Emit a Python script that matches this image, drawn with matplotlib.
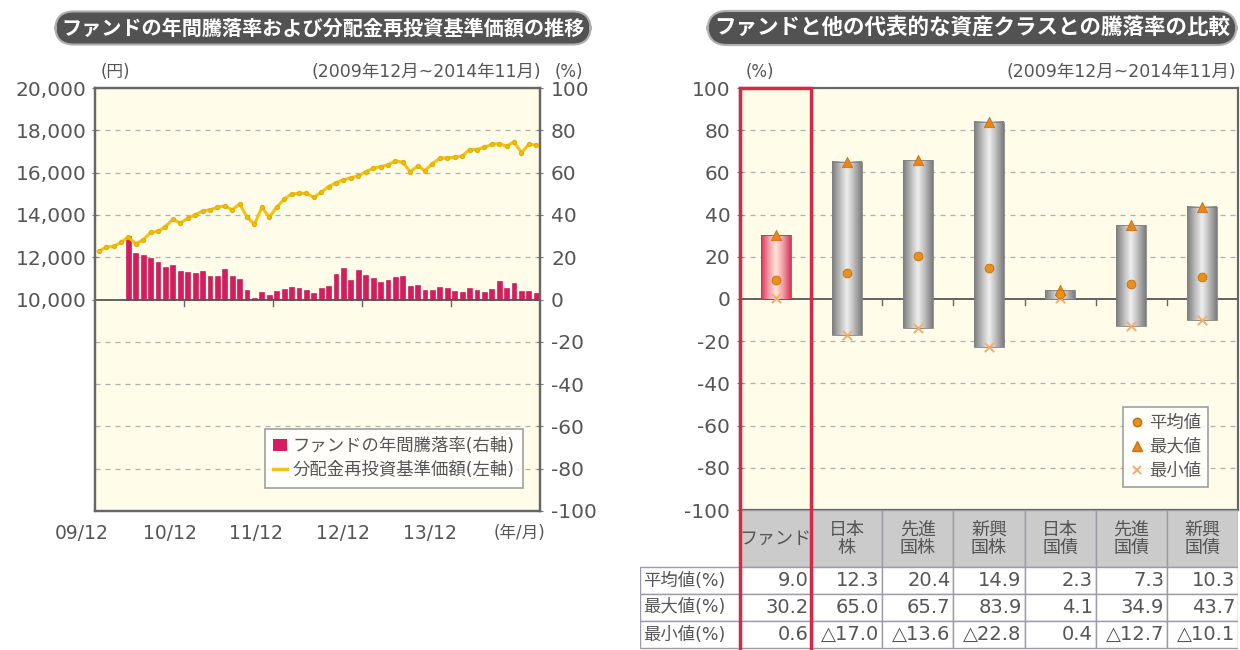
import numpy as np
import matplotlib
matplotlib.use('Agg')
import matplotlib.pyplot as plt
import matplotlib.transforms as mtransforms
from matplotlib.patches import Rectangle
from matplotlib.lines import Line2D
from matplotlib.colors import LinearSegmentedColormap

plt.rcParams['font.family'] = ['DejaVu Sans', 'Noto Sans CJK JP']
plt.rcParams['axes.unicode_minus'] = False

# left chart: monthly NAV (yen, 2009/12 - 2014/11) and 1-year return (%)
nav = [12280, 12480, 12510, 12700, 12950, 12640, 12820, 13170, 13220, 13450,
       13800, 13610, 13840, 14000, 14190, 14240, 14350, 14430, 14240, 14520,
       13890, 13560, 14360, 13890, 14360, 14740, 14990, 15020, 15020, 14830,
       15070, 15340, 15520, 15650, 15760, 15840, 16040, 16200, 16280, 16360,
       16560, 16480, 16040, 16310, 16090, 16430, 16670, 16700, 16720, 16780,
       17090, 17090, 17190, 17340, 17370, 17250, 17450, 16940, 17340, 17300]
ret = [30.2, 22.2, 21.1, 19.4, 17.5, 15.6, 16.1, 13.7, 12.8, 12.5,
       13.7, 10.9, 10.9, 14.5, 10.9, 9.7, 4.4, 0.6, 3.6, 2.3,
       4.2, 5.0, 5.8, 5.5, 4.7, 3.1, 5.6, 6.2, 12.2, 15.1,
       9.4, 14.0, 11.7, 10.1, 8.1, 9.4, 10.5, 11.2, 6.6, 7.0,
       4.4, 4.4, 5.9, 5.5, 3.9, 3.6, 5.5, 4.7, 3.6, 5.0,
       8.6, 5.5, 7.8, 3.9, 3.9, 3.1]
ret_start = len(nav) - len(ret)
year_labels = ['09/12', '10/12', '11/12', '12/12', '13/12']
year_label_pos = [-2.25, 9.6, 21.2, 32.9, 44.6]

# right chart: return comparison
categories = ['ファンド', '日本\n株', '先進\n国株', '新興\n国株', '日本\n国債', '先進\n国債', '新興\n国債']
avg_vals = [9.0, 12.3, 20.4, 14.9, 2.3, 7.3, 10.3]
max_vals = [30.2, 65.0, 65.7, 83.9, 4.1, 34.9, 43.7]
min_vals = [0.6, -17.0, -13.6, -22.8, 0.4, -12.7, -10.1]
row_labels = ['平均値(%)', '最大値(%)', '最小値(%)']

TXT = '#555555'
BG = '#fffce9'
GRID = '#b0b0b0'
W, H = 1240, 650

fig = plt.figure(figsize=(12.4, 6.5), dpi=100)


def box(x0, y0, x1, y1):
    return [x0 / W, 1 - y1 / H, (x1 - x0) / W, (y1 - y0) / H]


def title(xc, s, size):
    fig.text(xc / W, 1 - 28 / H, s, ha='center', va='center', fontsize=size,
             fontweight='bold', color='white', family=['Noto Sans CJK JP'],
             bbox=dict(boxstyle='round,pad=0.3,rounding_size=0.9', fc='#525252',
                       ec='#b0b0b0', lw=1.5))


def frame(a):
    for s in a.spines.values():
        s.set_color('#666666')
        s.set_linewidth(1.6)


# ---------------- left chart ----------------
title(323, 'ファンドの年間騰落率および分配金再投資基準価額の推移', 14.5)
ax = fig.add_axes(box(95, 88, 540, 511))
ax.set_facecolor(BG)
months = np.arange(len(nav))
ax.bar(months[ret_start:], ret, width=0.66, color='#d81b5e', edgecolor='#b3124c',
       lw=0.4, zorder=3)
ax.set_xlim(-0.5, len(nav) - 0.5)
ax.set_ylim(-100, 100)
for v in range(-80, 81, 20):
    if v != 0:
        ax.axhline(v, color=GRID, ls=(0, (4, 4)), lw=0.9, zorder=1)
ax.axhline(0, color='#555555', lw=1.3, zorder=4)
for k in range(1, 5):
    ax.plot([12 * k - 0.5] * 2, [0, -3], color='#666666', lw=1, zorder=4)
ax.set_xticks([])
frame(ax)
tr = mtransforms.blended_transform_factory(ax.transData, ax.transAxes)
for p, lab in zip(year_label_pos, year_labels):
    ax.text(p, -0.03, lab, transform=tr, ha='center', va='top', fontsize=13.5, color=TXT)
ax.text(56.8, -0.03, '(年/月)', transform=tr, ha='center', va='top', fontsize=12, color=TXT)

axL = ax.twinx()
axL.plot(months, nav, color='#f2c30f', lw=2.2, marker='o', ms=2.8, mec='#e2b000', zorder=5)
axL.set_ylim(0, 20000)
axL.set_yticks(range(10000, 20001, 2000))
axL.set_yticklabels([f'{v:,}' for v in range(10000, 20001, 2000)])
axL.yaxis.tick_left()
axL.tick_params(axis='y', length=4, direction='inout', labelsize=14.5,
                labelcolor=TXT, color='#777777', pad=4)
frame(axL)

# percent scale goes on the right side (set after twinx, which resets it)
ax.set_yticks(range(-100, 101, 20))
ax.yaxis.tick_right()
ax.tick_params(axis='y', length=4, direction='inout', labelsize=14.5,
               labelcolor=TXT, color='#777777', pad=6)

fig.text(115 / W, 1 - 72 / H, '(円)', ha='center', va='center', fontsize=12, color=TXT)
fig.text(541 / W, 1 - 72 / H, '(2009年12月~2014年11月)', ha='right', va='center',
         fontsize=12.5, color=TXT)
fig.text(569 / W, 1 - 72 / H, '(%)', ha='center', va='center', fontsize=12, color=TXT)

h1 = Rectangle((0, 0), 1, 1, fc='#d81b5e')
h2 = Line2D([], [], color='#f2c30f', lw=2.5)
leg = axL.legend([h1, h2], ['ファンドの年間騰落率(右軸)', '分配金再投資基準価額(左軸)'],
                 loc='lower right', bbox_to_anchor=(0.962, 0.054), fontsize=12.5,
                 frameon=True, fancybox=False, borderaxespad=0, handlelength=0.8,
                 handletextpad=0.3, labelspacing=0.35, borderpad=0.5)
leg.get_frame().set_edgecolor('#888888')
leg.get_frame().set_linewidth(1.2)
for t in leg.get_texts():
    t.set_color(TXT)

# ---------------- right chart ----------------
title(972, 'ファンドと他の代表的な資産クラスとの騰落率の比較', 15.5)
ax2 = fig.add_axes(box(740, 88, 1238, 510))
ax2.set_facecolor(BG)
xs = np.arange(len(categories))
for v in range(-80, 81, 20):
    if v != 0:
        ax2.axhline(v, color=GRID, ls=(0, (4, 4)), lw=0.9, zorder=1)
ax2.axhline(0, color='#555555', lw=1.3, zorder=2)
for b in xs[:-1] + 0.5:
    ax2.plot([b, b], [0, -3], color='#666666', lw=1, zorder=2)

grad = np.linspace(0, 1, 64).reshape(1, -1)
gray = LinearSegmentedColormap.from_list('g', ['#7c7c7c', '#b8b8b8', '#efefef', '#b8b8b8', '#7c7c7c'])
pink = LinearSegmentedColormap.from_list('p', ['#d8365e', '#f29aa3', '#ffe4da', '#f29aa3', '#d8365e'])
bw = 0.42
for i, lo, hi in zip(xs, min_vals, max_vals):
    lo_b, hi_b = min(lo, 0), max(hi, 0)
    ax2.imshow(grad, extent=(i - bw / 2, i + bw / 2, lo_b, hi_b), aspect='auto',
               cmap=pink if i == 0 else gray, interpolation='bicubic', zorder=3)
    ax2.add_patch(Rectangle((i - bw / 2, lo_b), bw, hi_b - lo_b, fill=False,
                            ec='#c03050' if i == 0 else '#808080', lw=0.6, zorder=3))
ax2.scatter(xs, min_vals, marker='x', s=45, color='#f2ad6c', lw=1.4, zorder=5)
ax2.scatter(xs, max_vals, marker='^', s=55, color='#e8861a', edgecolor='#d07010', lw=0.6, zorder=6)
ax2.scatter(xs, avg_vals, marker='o', s=40, color='#e8911f', edgecolor='#c46c00', lw=0.6, zorder=6)
ax2.set_xlim(-0.5, len(categories) - 0.5)
ax2.set_ylim(-100, 100)
ax2.set_yticks(range(-100, 101, 20))
ax2.set_xticks([])
ax2.tick_params(axis='y', length=4, direction='inout', labelsize=14.5,
                labelcolor=TXT, color='#777777', pad=5)
frame(ax2)

lh = [Line2D([], [], ls='', marker='o', ms=6, color='#e8911f', mec='#c46c00'),
      Line2D([], [], ls='', marker='^', ms=7, color='#e8861a', mec='#d07010'),
      Line2D([], [], ls='', marker='x', ms=6, color='#f2ad6c', mew=1.4)]
leg2 = ax2.legend(lh, ['平均値', '最大値', '最小値'], loc='lower right',
                  bbox_to_anchor=(0.94, 0.055), fontsize=12.5, frameon=True,
                  fancybox=False, borderaxespad=0, handlelength=0.8,
                  handletextpad=0.3, labelspacing=0.35, borderpad=0.4)
leg2.get_frame().set_edgecolor('#888888')
leg2.get_frame().set_linewidth(1.2)
for t in leg2.get_texts():
    t.set_color(TXT)

fig.text(760 / W, 1 - 72 / H, '(%)', ha='center', va='center', fontsize=12, color=TXT)
fig.text(1236 / W, 1 - 72 / H, '(2009年12月~2014年11月)', ha='right', va='center',
         fontsize=12.5, color=TXT)

# table under the right chart
lab_w = 100 / (498 / len(categories))
axT = fig.add_axes(box(640, 510, 1238, 650))
axT.set_xlim(-0.5 - lab_w, len(categories) - 0.5)
axT.set_ylim(140, 0)
axT.axis('off')
hdr_h, row_h = 57, 27
for i, cat in enumerate(categories):
    axT.add_patch(Rectangle((i - 0.5, 0), 1, hdr_h, fc='#cbcbcb', ec='#9a9aaa', lw=1))
    axT.text(i, hdr_h / 2, cat, ha='center', va='center', fontsize=13,
             color=TXT, linespacing=1.0)
for r, (lab, vals) in enumerate(zip(row_labels, [avg_vals, max_vals, min_vals])):
    y0 = hdr_h + r * row_h
    axT.add_patch(Rectangle((-0.5 - lab_w, y0), lab_w, row_h, fc='white', ec='#9a9aaa', lw=1))
    axT.text(-0.5 - lab_w + 0.05, y0 + row_h / 2, lab, ha='left', va='center',
             fontsize=12.5, color=TXT)
    for i, v in enumerate(vals):
        axT.add_patch(Rectangle((i - 0.5, y0), 1, row_h, fc='white', ec='#9a9aaa', lw=1))
        s = f'{v:.1f}' if v >= 0 else '△' + f'{-v:.1f}'
        axT.text(i + 0.46, y0 + row_h / 2, s, ha='right', va='center',
                 fontsize=14, color=TXT)

# red frame around the fund column
trR = mtransforms.blended_transform_factory(ax2.transData, fig.transFigure)
fig.add_artist(Rectangle((-0.5, -0.02), 1, 1 - 88 / H + 0.02, transform=trR,
                         fill=False, ec='#d42a45', lw=2.5, zorder=10))

fig.savefig('out.png', dpi=100, facecolor='white')
